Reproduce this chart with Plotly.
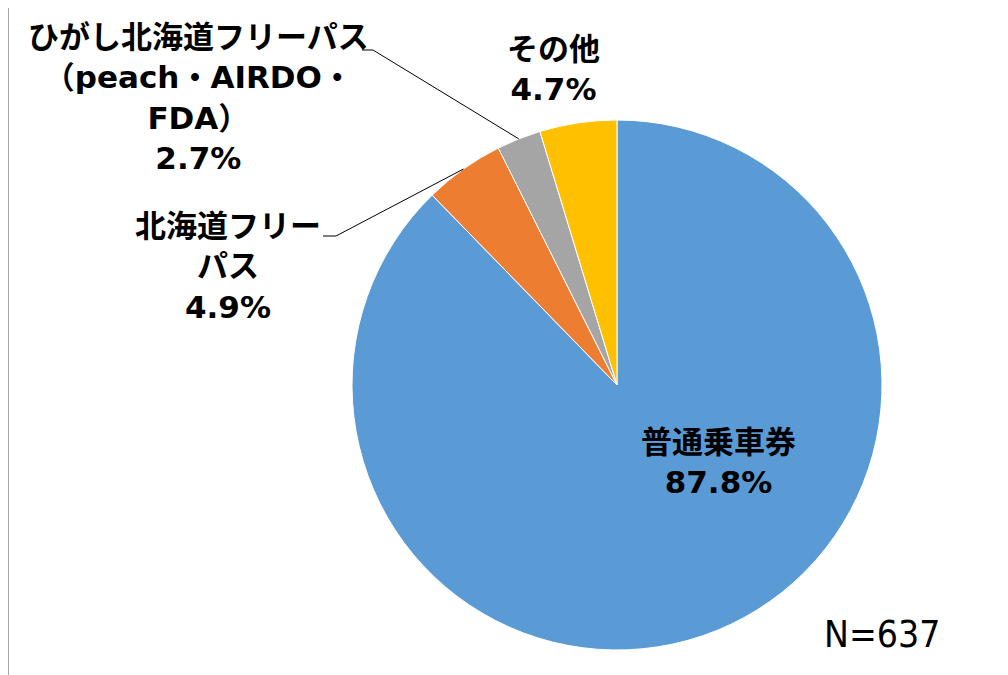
import math
import plotly.graph_objects as go

W, H = 1008, 675

# data (percent of respondents, N=637)
categories = ["普通乗車券", "北海道フリーパス", "ひがし北海道フリーパス（peach・AIRDO・FDA）", "その他"]
shares = [87.8, 4.9, 2.7, 4.7]
label_lines = [
    ["普通乗車券"],
    ["北海道フリー", "パス"],
    ["ひがし北海道フリーパス", "（peach・AIRDO・", "FDA）"],
    ["その他"],
]
colors = ["#5B9BD5", "#ED7D31", "#A5A5A5", "#FFC000"]
n_total = 637

# pie geometry in pixels (screen coords)
CX, CY, R = 617, 385, 265
FONT = "DejaVu Sans, Noto Sans CJK JP"
OFF = 8  # page body margin pushes the plot down/right


def px(x):
    return (x - OFF) / W


def py(y):
    return 1 - (y - OFF) / H


fig = go.Figure(
    go.Pie(
        labels=categories,
        values=shares,
        sort=False,
        direction="clockwise",
        rotation=0,
        marker=dict(colors=colors, line=dict(color="white", width=1)),
        textinfo="none",
        hoverinfo="label+percent",
        showlegend=False,
        domain=dict(x=[px(CX - R), px(CX + R)], y=[py(CY + R), py(CY - R)]),
    )
)

# label placement (pixel centre of text block) and leader elbows
label_pos = [(718, 462), (228, 266), (198, 97), (553, 69)]
leaders = {1: (323, 336, 236), 2: (362, 373, 50)}


def mid_point(i):
    total = sum(shares)
    start = sum(shares[:i]) / total
    mid = (start + shares[i] / total / 2) * 2 * math.pi
    return CX + R * math.sin(mid), CY - R * math.cos(mid)


for i, (lines, (lx, ly)) in enumerate(zip(label_lines, label_pos)):
    text = "<br>".join(lines + ["{:.1f}%".format(shares[i])])
    fig.add_annotation(
        x=px(lx), y=py(ly), xref="paper", yref="paper",
        text=text, showarrow=False, align="center",
        xanchor="center", yanchor="middle",
        font=dict(family=FONT, size=31, color="black", weight="bold"),
    )

for i, (x0, x1, y) in leaders.items():
    ex, ey = mid_point(i)
    fig.add_shape(
        type="path", xref="paper", yref="paper",
        path="M {} {} L {} {} L {} {}".format(px(x0), py(y), px(x1), py(y), px(ex), py(ey)),
        line=dict(color="black", width=1),
    )

fig.add_annotation(
    x=px(882), y=py(634), xref="paper", yref="paper",
    text="N={}".format(n_total), showarrow=False,
    xanchor="center", yanchor="middle",
    font=dict(family="DejaVu Sans Condensed, Liberation Sans", size=37, color="black"),
)

# chart frame (top and left edge visible)
fig.add_shape(
    type="rect", xref="paper", yref="paper",
    x0=px(8), x1=px(1030), y0=py(720), y1=py(7),
    line=dict(color="#8C8C8C", width=1.5),
)

fig.update_layout(
    width=W, height=H,
    margin=dict(l=0, r=0, t=0, b=0),
    paper_bgcolor="white",
    plot_bgcolor="white",
)

fig.write_html("out.html")
